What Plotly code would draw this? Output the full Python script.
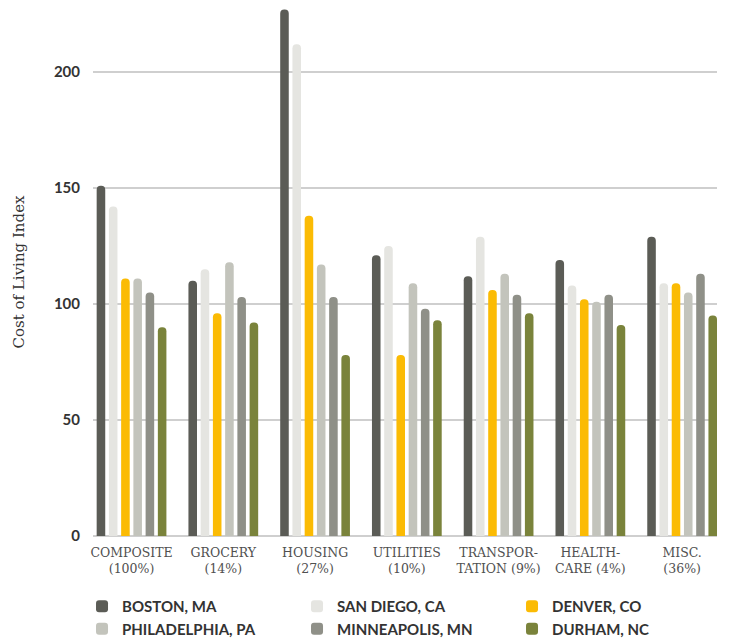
import plotly.graph_objects as go

categories = ["COMPOSITE<br>(100%)", "GROCERY<br>(14%)", "HOUSING<br>(27%)", "UTILITIES<br>(10%)",
              "TRANSPOR-<br>TATION (9%)", "HEALTH-<br>CARE (4%)", "MISC.<br>(36%)"]

boston = [151, 110, 227, 121, 112, 119, 129]
san_diego = [142, 115, 212, 125, 129, 108, 109]
denver = [111, 96, 138, 78, 106, 102, 109]
philadelphia = [111, 118, 117, 109, 113, 101, 105]
minneapolis = [105, 103, 103, 98, 104, 104, 113]
durham = [90, 92, 78, 93, 96, 91, 95]

series_names = ["BOSTON, MA", "SAN DIEGO, CA", "DENVER, CO",
                "PHILADELPHIA, PA", "MINNEAPOLIS, MN", "DURHAM, NC"]
series_values = [boston, san_diego, denver, philadelphia, minneapolis, durham]
colors = ["#5b5c56", "#e5e5e1", "#fbbb04", "#c3c4bc", "#8f9088", "#7a833b"]

y_ticks = [0, 50, 100, 150, 200]

fig = go.Figure()
for name, vals, col in zip(series_names, series_values, colors):
    fig.add_trace(go.Bar(x=categories, y=vals, name=name, marker=dict(color=col, line=dict(width=0))))

fig.update_layout(
    width=735, height=639,
    margin=dict(l=85, r=26, t=0, b=111, autoexpand=False),
    plot_bgcolor="white", paper_bgcolor="white",
    barmode="group", bargap=0.2, bargroupgap=0.3, barcornerradius=4,
    showlegend=True,
    legend=dict(orientation="h", xref="paper", yref="paper",
                x=-0.0176, xanchor="left", y=-0.1023, yanchor="top",
                entrywidth=170, entrywidthmode="pixels", traceorder="normal",
                font=dict(family="Lato", size=15, color="#333333", weight="bold"),
                itemclick=False, tracegroupgap=0),
    xaxis=dict(range=[-0.42, 6.38], showgrid=False, showline=False, ticks="", ticklabelstandoff=7,
               tickfont=dict(family="DejaVu Serif", size=12.5, color="#505050")),
    yaxis=dict(range=[0, 227.6], tickvals=y_ticks, showgrid=True, gridcolor="#cfcfcf", gridwidth=1.8,
               zeroline=True, zerolinecolor="#cfcfcf", zerolinewidth=2, ticks="", ticklabelstandoff=12,
               tickfont=dict(family="Lato", size=15, color="#333333", weight="bold"),
               title=dict(text="Cost of Living Index", standoff=25,
                          font=dict(family="DejaVu Serif", size=15, color="#333333"))),
)

fig.write_html("out.html")
